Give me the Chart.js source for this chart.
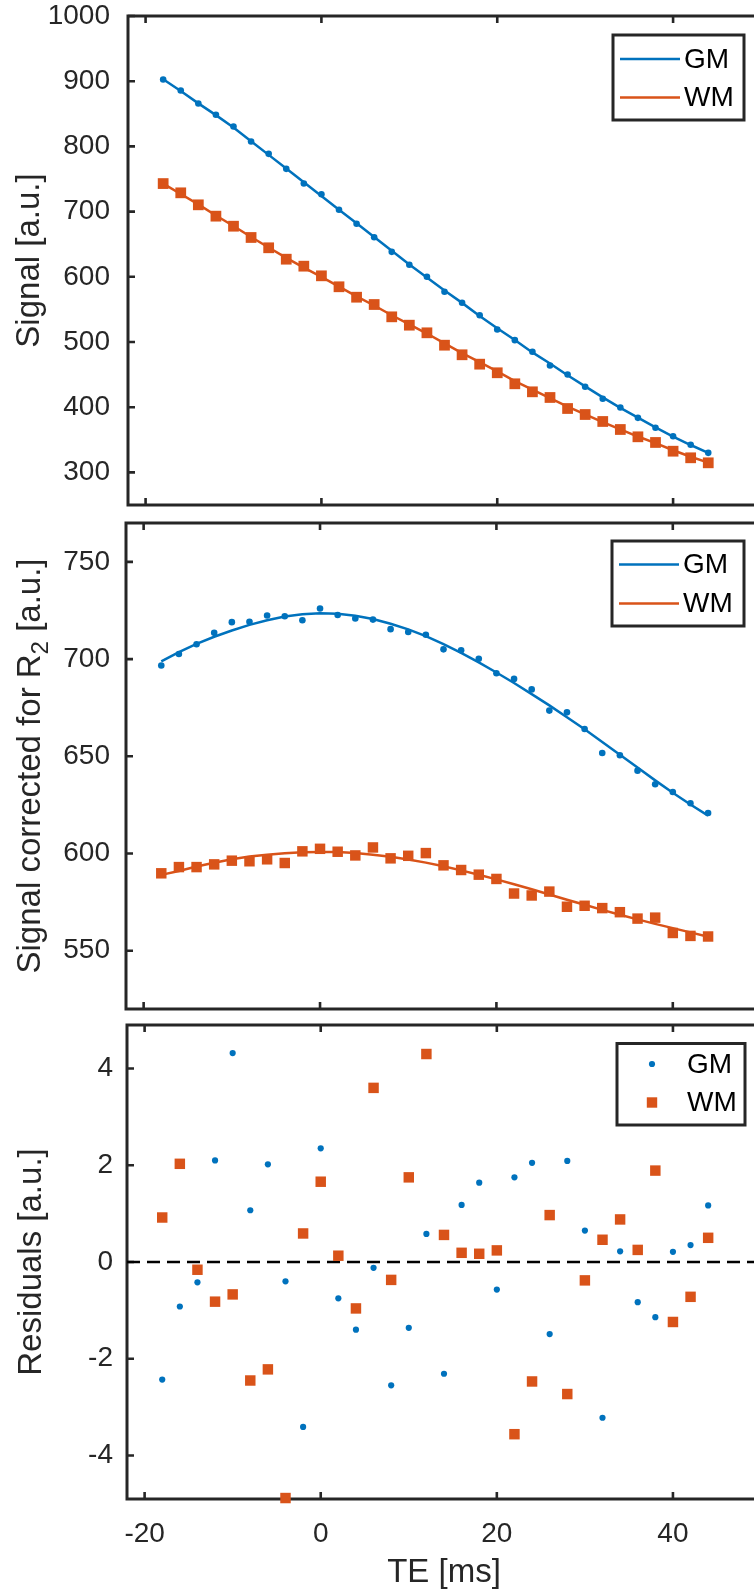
<!DOCTYPE html>
<html>
<head>
<meta charset="utf-8">
<script src="https://cdn.jsdelivr.net/npm/chart.js@4.4.0/dist/chart.umd.min.js"></script>
<style>
  html, body { margin: 0; padding: 0; background: #fff; overflow: hidden; }
  #wrap { position: relative; width: 754px; height: 1595px; overflow: hidden; }
  canvas { position: absolute; left: 0; }
</style>
</head>
<body>
<div id="wrap">
  <canvas id="signalChart" width="775" height="514" style="top:0px"></canvas>
  <canvas id="correctedChart" width="775" height="503" style="top:514px"></canvas>
  <canvas id="residualChart" width="775" height="578" style="top:1017px"></canvas>
</div>
<script>
// echo times (ms)
const te = [-18, -16, -14, -12, -10, -8, -6, -4, -2, 0, 2, 4, 6, 8, 10, 12,
  14, 16, 18, 20, 22, 24, 26, 28, 30, 32, 34, 36, 38, 40, 42, 44];
const seriesNames = ["GM", "WM"];

// panel 1: raw signal + fit
const signalGM = [902.6, 885.7, 865.8, 848.5, 830.5, 807.5, 788.6, 765.6, 743.0, 726.7, 702.8, 681.3, 660.7, 638.3, 618.4, 600.0,
  577.0, 560.1, 541.1, 519.2, 502.8, 485.0, 464.0, 450.2, 431.3, 412.9, 399.5, 383.7, 368.4, 355.5, 342.3, 330.0];
const signalGMFit = [903, 885, 866, 848, 829, 808, 787, 766, 745, 724, 703, 682, 661, 640, 619, 599,
  579, 560, 540, 521, 503, 484, 467, 449, 432, 415, 399, 384, 369, 355, 342, 330];
const signalWM = [743.0, 728.8, 710.4, 693.0, 677.6, 660.3, 644.5, 627.0, 616.3, 601.5, 584.7, 568.7, 557.5, 538.6, 525.8, 514.1,
  495.1, 480.4, 466.0, 452.8, 435.9, 423.6, 414.9, 398.0, 388.8, 378.1, 365.8, 354.6, 345.9, 332.5, 322.4, 314.7];
const signalWMFit = [743, 727, 711, 694, 678, 661, 645, 629, 614, 600, 585, 570, 556, 541, 527, 513,
  498, 483, 469, 455, 440, 427, 414, 401, 389, 377, 366, 355, 345, 334, 324, 315];

// panel 2: signal corrected for R2 + fit
const corrGM = [696.7, 702.6, 707.6, 713.5, 719.0, 719.2, 722.4, 722.0, 720.0, 726.0, 722.7, 720.9, 720.3, 715.4, 713.9, 712.5,
  705.0, 704.5, 700.2, 692.7, 689.8, 684.4, 673.5, 672.6, 664.0, 651.7, 650.5, 642.6, 635.6, 631.6, 625.8, 620.8];
const corrGMFit = [698.8, 703.6, 707.8, 711.5, 714.7, 717.6, 720.0, 721.9, 723.1, 723.6, 723.3, 722.3, 720.6, 718.2, 715.3, 711.8,
  707.7, 703.2, 698.3, 693.1, 687.7, 682.0, 676.2, 670.1, 663.9, 657.4, 650.8, 644.2, 637.6, 631.2, 625.2, 619.5];
const corrWM = [589.8, 593.0, 593.0, 594.4, 596.3, 596.0, 597.0, 595.1, 601.1, 602.4, 600.9, 599.0, 603.1, 597.5, 598.8, 600.2,
  593.9, 591.5, 589.1, 586.9, 579.4, 578.4, 580.4, 572.6, 573.1, 571.9, 569.8, 566.5, 567.0, 559.1, 557.6, 557.3];
const corrWMFit = [589.0, 591.0, 593.3, 595.2, 597.0, 598.4, 599.4, 600.1, 600.6, 600.8, 600.7, 600.2, 599.4, 598.3, 596.9, 595.3,
  593.4, 591.3, 589.1, 586.7, 584.2, 581.6, 578.9, 576.2, 573.6, 571.0, 568.5, 566.1, 563.8, 561.6, 559.4, 557.2];

// panel 3: residuals
const residGM = [-2.43, -0.92, -0.42, 2.10, 4.32, 1.07, 2.02, -0.40, -3.41, 2.35, -0.75, -1.40, -0.12, -2.55, -1.36, 0.58,
  -2.31, 1.18, 1.64, -0.57, 1.75, 2.05, -1.49, 2.09, 0.65, -3.22, 0.22, -0.83, -1.14, 0.21, 0.35, 1.17];
const residWM = [0.92, 2.03, -0.16, -0.82, -0.67, -2.45, -2.22, -4.88, 0.59, 1.66, 0.13, -0.96, 3.60, -0.37, 1.75, 4.30,
  0.56, 0.19, 0.17, 0.24, -3.56, -2.47, 0.97, -2.73, -0.38, 0.46, 0.88, 0.25, 1.89, -1.24, -0.72, 0.50];

// axes
const teRange = [-22, 50];
const teTicks = [-20, 0, 20, 40];
const signalRange = [250, 1000];
const signalTicks = [300, 400, 500, 600, 700, 800, 900, 1000];
const corrRange = [520, 770];
const corrTicks = [550, 600, 650, 700, 750];
const residRange = [-4.9, 4.9];
const residTicks = [-4, -2, 0, 2, 4];
const zeroLine = [0, 0];

// middle y title, split so the 2 can be a subscript
const corrTitle = ["Signal corrected for R", "2", " [a.u.]"];

const BLUE = "#0072BD";
const ORANGE = "#D95319";
const INK = "#262626";
const FONT = "'Liberation Sans', Arial, Helvetica, sans-serif";
const tickFont = { family: FONT, size: 28 };
const titleFont = { family: FONT, size: 33 };

const pts = (ys) => te.map((t, i) => ({ x: t, y: ys[i] }));

// MATLAB-style box with inward ticks on all four sides
const frame = {
  id: "frame",
  beforeDatasetsDraw(chart) {
    const { ctx, chartArea: a, scales: { x, y } } = chart;
    const len = 7;
    ctx.save();
    ctx.strokeStyle = INK;
    ctx.lineWidth = 2.6;
    ctx.beginPath();
    x.ticks.forEach((t) => {
      const px = x.getPixelForValue(t.value);
      ctx.moveTo(px, a.bottom); ctx.lineTo(px, a.bottom - len);
      ctx.moveTo(px, a.top); ctx.lineTo(px, a.top + len);
    });
    y.ticks.forEach((t) => {
      const py = y.getPixelForValue(t.value);
      ctx.moveTo(a.left, py); ctx.lineTo(a.left + len, py);
      ctx.moveTo(a.right, py); ctx.lineTo(a.right - len, py);
    });
    ctx.stroke();
    ctx.lineWidth = 3;
    ctx.strokeRect(a.left, a.top, a.right - a.left, a.bottom - a.top);
    ctx.restore();
  }
};

// legend box drawn inside the axes, top right
const boxLegend = {
  id: "boxLegend",
  afterDraw(chart, args, o) {
    if (!o || !o.items) return;
    const { ctx, chartArea: a } = chart;
    const left = a.right - o.right - o.width;
    const top = a.top + o.top;
    ctx.save();
    ctx.fillStyle = "#fff";
    ctx.fillRect(left, top, o.width, o.height);
    ctx.strokeStyle = INK;
    ctx.lineWidth = 3;
    ctx.strokeRect(left, top, o.width, o.height);
    o.items.forEach((it, i) => {
      const cy = top + o.rows[i];
      if (o.kind === "line") {
        ctx.strokeStyle = it.color;
        ctx.lineWidth = 2.5;
        ctx.beginPath();
        ctx.moveTo(left + o.sample[0], cy);
        ctx.lineTo(left + o.sample[1], cy);
        ctx.stroke();
      } else {
        ctx.fillStyle = it.color;
        const mx = left + o.sample[0];
        if (it.style === "rect") {
          ctx.fillRect(mx - 5.2, cy - 5.2, 10.4, 10.4);
        } else {
          ctx.beginPath();
          ctx.arc(mx, cy, 3.1, 0, Math.PI * 2);
          ctx.fill();
        }
      }
      ctx.fillStyle = "#000";
      ctx.font = "28px " + FONT;
      ctx.textAlign = "left";
      ctx.textBaseline = "middle";
      ctx.fillText(it.text, left + o.textX, cy + 1);
    });
    ctx.restore();
  }
};

// rotated y title with a subscript, drawn for the middle panel only
const corrTitlePlugin = {
  id: "corrTitle",
  afterDraw(chart) {
    const { ctx, chartArea: a } = chart;
    const sizes = [33, 24, 33];
    const shifts = [0, 8, 0];
    ctx.save();
    ctx.fillStyle = INK;
    ctx.textBaseline = "alphabetic";
    ctx.textAlign = "left";
    const widths = corrTitle.map((s, i) => {
      ctx.font = sizes[i] + "px " + FONT;
      return ctx.measureText(s).width;
    });
    const total = widths.reduce((s, w) => s + w, 0);
    ctx.translate(40, (a.top + a.bottom) / 2);
    ctx.rotate(-Math.PI / 2);
    let pos = -total / 2;
    corrTitle.forEach((s, i) => {
      ctx.font = sizes[i] + "px " + FONT;
      ctx.fillText(s, pos, shifts[i]);
      pos += widths[i];
    });
    ctx.restore();
  }
};

function fitLine(ys, color) {
  return { data: pts(ys), showLine: true, borderColor: color, borderWidth: 2.5, pointRadius: 0, clip: false };
}
function markers(ys, color, style, r) {
  return {
    data: pts(ys), showLine: false, pointStyle: style, pointRadius: r,
    backgroundColor: color, borderWidth: 0, pointBorderWidth: 0, clip: false
  };
}

function makePanel(id, cfg) {
  return new Chart(document.getElementById(id), {
    type: "scatter",
    data: { datasets: cfg.datasets },
    options: {
      responsive: false,
      animation: false,
      devicePixelRatio: 1,
      layout: { padding: { top: cfg.padTop, left: 0, right: 14, bottom: 0 } },
      plugins: {
        legend: { display: false },
        tooltip: { enabled: false },
        boxLegend: cfg.legend
      },
      scales: {
        x: {
          type: "linear",
          min: teRange[0],
          max: teRange[1],
          afterBuildTicks: (s) => { s.ticks = teTicks.map((v) => ({ value: v })); },
          afterFit: (s) => { s.height = cfg.xHeight; s.paddingLeft = 0; s.paddingRight = 0; },
          grid: { display: false, drawTicks: false },
          border: { display: false },
          ticks: { display: cfg.showX, padding: 18, font: tickFont, color: INK, callback: (v) => String(v) },
          title: { display: cfg.showX, text: "TE [ms]", font: titleFont, color: INK, padding: { top: 0, bottom: 2 } }
        },
        y: {
          type: "linear",
          min: cfg.range[0],
          max: cfg.range[1],
          afterBuildTicks: (s) => { s.ticks = cfg.ticks.map((v) => ({ value: v })); },
          afterFit: (s) => { s.width = cfg.left; s.paddingTop = 0; s.paddingBottom = 0; },
          grid: { display: false, drawTicks: false },
          border: { display: false },
          ticks: { padding: cfg.tickPad, font: tickFont, color: INK, callback: (v) => String(v) },
          title: { display: !!cfg.yTitle, text: cfg.yTitle || "", font: titleFont, color: INK, padding: { top: cfg.titlePad || 0, bottom: 0 } }
        }
      }
    },
    plugins: [frame, boxLegend].concat(cfg.extra || [])
  });
}

makePanel("signalChart", {
  padTop: 16, xHeight: 9, left: 128, tickPad: 18, titlePad: 10, showX: false,
  range: signalRange, ticks: signalTicks, yTitle: "Signal [a.u.]",
  datasets: [
    markers(signalGM, BLUE, "circle", 3.3),
    markers(signalWM, ORANGE, "rect", 7.6),
    fitLine(signalGMFit, BLUE),
    fitLine(signalWMFit, ORANGE)
  ],
  legend: {
    kind: "line", right: 17, top: 19, width: 131, height: 85, rows: [24, 62.5], sample: [7, 67], textX: 71,
    items: [{ text: seriesNames[0], color: BLUE }, { text: seriesNames[1], color: ORANGE }]
  }
});

makePanel("correctedChart", {
  padTop: 9, xHeight: 8, left: 126, tickPad: 16, showX: false,
  range: corrRange, ticks: corrTicks, yTitle: "",
  extra: [corrTitlePlugin],
  datasets: [
    markers(corrGM, BLUE, "circle", 3.3),
    markers(corrWM, ORANGE, "rect", 7.4),
    fitLine(corrGMFit, BLUE),
    fitLine(corrWMFit, ORANGE)
  ],
  legend: {
    kind: "line", right: 17, top: 18, width: 132, height: 85, rows: [23.5, 62.5], sample: [7, 67], textX: 71,
    items: [{ text: seriesNames[0], color: BLUE }, { text: seriesNames[1], color: ORANGE }]
  }
});

makePanel("residualChart", {
  padTop: 8, xHeight: 96, left: 127, tickPad: 14, titlePad: 12, showX: true,
  range: residRange, ticks: residTicks, yTitle: "Residuals [a.u.]",
  datasets: [
    markers(residGM, BLUE, "circle", 3.1),
    markers(residWM, ORANGE, "rect", 7.4),
    {
      data: [{ x: teRange[0], y: zeroLine[0] }, { x: teRange[1], y: zeroLine[1] }],
      showLine: true, borderColor: "#000", borderWidth: 2.5, borderDash: [13, 7], pointRadius: 0
    }
  ],
  legend: {
    kind: "marker", right: 16, top: 18.5, width: 128, height: 81.5, rows: [20.5, 59], sample: [35], textX: 70,
    items: [{ text: seriesNames[0], color: BLUE, style: "circle" }, { text: seriesNames[1], color: ORANGE, style: "rect" }]
  }
});
</script>
</body>
</html>
